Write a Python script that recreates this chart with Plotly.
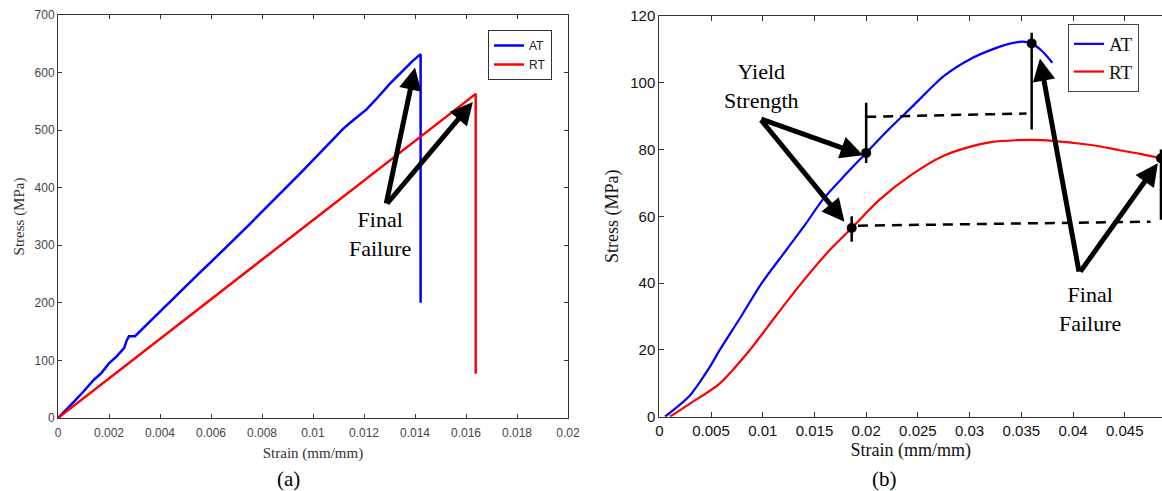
import plotly.graph_objects as go

# ---------------- data: panel (a) ----------------
a_at_strain = [0, 0.0003, 0.0006, 0.001, 0.0014, 0.0017, 0.002, 0.0023, 0.0026, 0.00268, 0.00278,
               0.0029, 0.00302, 0.0035, 0.004, 0.0045, 0.005, 0.0055, 0.006, 0.0065, 0.00688, 0.0075,
               0.008, 0.0085, 0.009, 0.0095, 0.01, 0.0104, 0.0108, 0.0112, 0.0116, 0.0121, 0.0125,
               0.013, 0.0135, 0.0139, 0.01422, 0.01422]
a_at_stress = [0, 13, 27, 46, 66, 78, 95, 107, 122, 133, 142, 142, 142, 163, 185, 207, 228, 250, 271,
               292, 309, 336, 358, 380, 402, 425, 448, 466, 484, 503, 518, 536, 555, 580, 602, 620,
               632, 200]
a_rt_strain = [0, 0.004, 0.008, 0.012, 0.01638, 0.01638]
a_rt_stress = [0, 137.5, 275, 412.5, 563, 77]

# ---------------- data: panel (b) ----------------
b_at_strain = [0.00055, 0.002, 0.003, 0.0039, 0.0049, 0.00585, 0.0079, 0.0099, 0.0123, 0.0141,
               0.0158, 0.018, 0.02, 0.022, 0.0245, 0.0275, 0.03, 0.0322, 0.034, 0.0351, 0.036,
               0.037, 0.038]
b_at_stress = [0, 3.6, 6.5, 10.3, 15, 20, 30, 40, 50, 57.5, 65, 72.5, 79, 85.5, 93, 102, 107, 110,
               111.8, 112.3, 111.8, 109.5, 106]
b_rt_strain = [0.00103, 0.003, 0.00586, 0.00876, 0.0113, 0.01374, 0.0165, 0.0186, 0.0213, 0.0245,
               0.0274, 0.03, 0.0322, 0.0345, 0.0361, 0.038, 0.0403, 0.0425, 0.0445, 0.0465, 0.0486]
b_rt_stress = [0, 4, 10, 20, 30.3, 40, 50, 56.5, 65, 72.7, 78, 80.8, 82.3, 82.8, 82.9, 82.6, 81.9,
               81, 79.8, 78.7, 77.3]

# marked points (yield / failure)
pt_strain = [0.02, 0.0186, 0.036, 0.0485]
pt_stress = [79, 56.5, 111.8, 77.4]

# vertical bars and dashed guide lines
bar_x = [[0.02, 0.02], [0.036, 0.036], [0.0186, 0.0186], [0.0485, 0.0485]]
bar_y = [[76, 94], [86, 115], [52.4, 60], [59, 80]]
dash_x = [[0.02, 0.0355], [0.0192, 0.0475]]
dash_y = [[89.8, 90.8], [57.2, 58.4]]

SERIF = "Liberation Serif"
SANS = "Liberation Sans"
BLUE = "#0000ff"
RED = "#ff0000"

fig = go.Figure()

fig.add_trace(go.Scatter(x=a_at_strain, y=a_at_stress, mode="lines", name="AT",
                         line=dict(color=BLUE, width=2.5), xaxis="x", yaxis="y", legend="legend"))
fig.add_trace(go.Scatter(x=a_rt_strain, y=a_rt_stress, mode="lines", name="RT",
                         line=dict(color=RED, width=2.5), xaxis="x", yaxis="y", legend="legend"))

fig.add_trace(go.Scatter(x=b_at_strain, y=b_at_stress, mode="lines", name="AT",
                         line=dict(color=BLUE, width=2.2, shape="spline", smoothing=0.8),
                         xaxis="x2", yaxis="y2", legend="legend2"))
fig.add_trace(go.Scatter(x=b_rt_strain, y=b_rt_stress, mode="lines", name="RT",
                         line=dict(color=RED, width=2.2, shape="spline", smoothing=0.8),
                         xaxis="x2", yaxis="y2", legend="legend2"))

for bx, by in zip(bar_x, bar_y):
    fig.add_trace(go.Scatter(x=bx, y=by, mode="lines", showlegend=False, hoverinfo="skip",
                             line=dict(color="black", width=2.5), xaxis="x2", yaxis="y2"))
for dx, dy in zip(dash_x, dash_y):
    fig.add_trace(go.Scatter(x=dx, y=dy, mode="lines", showlegend=False, hoverinfo="skip",
                             line=dict(color="black", width=2.5, dash="10px,7px"), xaxis="x2", yaxis="y2"))
fig.add_trace(go.Scatter(x=pt_strain, y=pt_stress, mode="markers", showlegend=False,
                         marker=dict(color="black", size=10), xaxis="x2", yaxis="y2"))

axis_common = dict(showline=True, linecolor="#333333", linewidth=1, ticks="inside",
                   showgrid=False, zeroline=False, automargin=False)

fig.update_layout(
    width=1162, height=491, margin=dict(l=0, r=0, t=0, b=0, autoexpand=False),
    paper_bgcolor="white", plot_bgcolor="white", showlegend=True,
    xaxis=dict(domain=[58 / 1162, 568 / 1162], range=[0, 0.02], dtick=0.002, mirror="ticks",
               ticklen=4, tickcolor="#333333", tickformat="~g", ticklabelstandoff=4,
               tickfont=dict(family=SANS, size=12, color="#444444"),
               title=dict(text="Strain (mm/mm)", font=dict(family=SERIF, size=15, color="#333333"),
                          standoff=8),
               anchor="y", **axis_common),
    yaxis=dict(domain=[1 - 418 / 491, 1 - 15 / 491], range=[0, 700], dtick=100, mirror="ticks",
               ticklen=4, tickcolor="#333333",
               tickfont=dict(family=SANS, size=12, color="#444444"),
               title=dict(text="Stress (MPa)", font=dict(family=SERIF, size=15, color="#333333"),
                          standoff=6),
               anchor="x", **axis_common),
    xaxis2=dict(domain=[659.3 / 1162, 1.0], range=[0, 0.0486], dtick=0.005, mirror="ticks",
                ticklen=5, tickcolor="#333333", tickformat="~g",
                tickfont=dict(family=SANS, size=15, color="#111111"),
                title=dict(text="Strain (mm/mm)", font=dict(family=SERIF, size=18, color="#111111"),
                           standoff=5),
                anchor="y2", **axis_common),
    yaxis2=dict(domain=[1 - 416.7 / 491, 1 - 16 / 491], range=[0, 120], dtick=20,
                ticklen=5, tickcolor="#333333",
                tickfont=dict(family=SANS, size=15, color="#111111"),
                title=dict(text="Stress (MPa)", font=dict(family=SERIF, size=18, color="#111111"),
                           standoff=6),
                anchor="x2", **axis_common),
    legend=dict(x=488 / 1162, y=1 - 30 / 491, xanchor="left", yanchor="top",
                bgcolor="white", bordercolor="#333333", borderwidth=1,
                font=dict(family=SANS, size=12, color="#222222"), tracegroupgap=0),
    legend2=dict(x=1068 / 1162, y=1 - 24 / 491, xanchor="left", yanchor="top",
                 bgcolor="white", bordercolor="#444444", borderwidth=1,
                 font=dict(family=SERIF, size=19, color="#111111"), tracegroupgap=0),
)

arrow_style = dict(showarrow=True, arrowhead=2, arrowsize=0.9, arrowwidth=5, arrowcolor="black",
                   text="", standoff=0, startstandoff=0)

# panel (a) arrows: tail -> head
a_tail = (0.01286, 370)
a_heads = [(0.0140, 609), (0.01627, 549)]
for hx, hy in a_heads:
    fig.add_annotation(x=hx, y=hy, ax=a_tail[0], ay=a_tail[1], xref="x", yref="y",
                       axref="x", ayref="y", **arrow_style)
fig.add_annotation(x=0.01263, y=319, xref="x", yref="y", text="Final<br>Failure", showarrow=False,
                   font=dict(family=SERIF, size=22, color="black"), align="center")

# panel (b) arrows
y_tail = (0.00972, 89.3)
y_heads = [(0.0197, 78.3), (0.0179, 58.4)]
for hx, hy in y_heads:
    fig.add_annotation(x=hx, y=hy, ax=y_tail[0], ay=y_tail[1], xref="x2", yref="y2",
                       axref="x2", ayref="y2", **arrow_style)
f_tail = (0.0406, 43)
f_heads = [(0.0368, 107.3), (0.0482, 75.9)]
for hx, hy in f_heads:
    fig.add_annotation(x=hx, y=hy, ax=f_tail[0], ay=f_tail[1], xref="x2", yref="y2",
                       axref="x2", ayref="y2", **arrow_style)
fig.add_annotation(x=0.0099, y=99, xref="x2", yref="y2", text="Yield<br>Strength", showarrow=False,
                   font=dict(family=SERIF, size=22, color="black"), align="center")
fig.add_annotation(x=0.0416, y=32.2, xref="x2", yref="y2", text="Final<br>Failure", showarrow=False,
                   font=dict(family=SERIF, size=22, color="black"), align="center")

# panel labels
fig.add_annotation(x=288 / 1162, y=1 - 479 / 491, xref="paper", yref="paper", text="(a)",
                   xanchor="center", yanchor="middle",
                   showarrow=False, font=dict(family=SERIF, size=21, color="black"))
fig.add_annotation(x=884 / 1162, y=1 - 479 / 491, xref="paper", yref="paper", text="(b)",
                   xanchor="center", yanchor="middle",
                   showarrow=False, font=dict(family=SERIF, size=21, color="black"))

fig.write_html("out.html", config={"displayModeBar": False},
               post_script="document.body.style.margin='0';document.body.style.overflow='hidden';")
